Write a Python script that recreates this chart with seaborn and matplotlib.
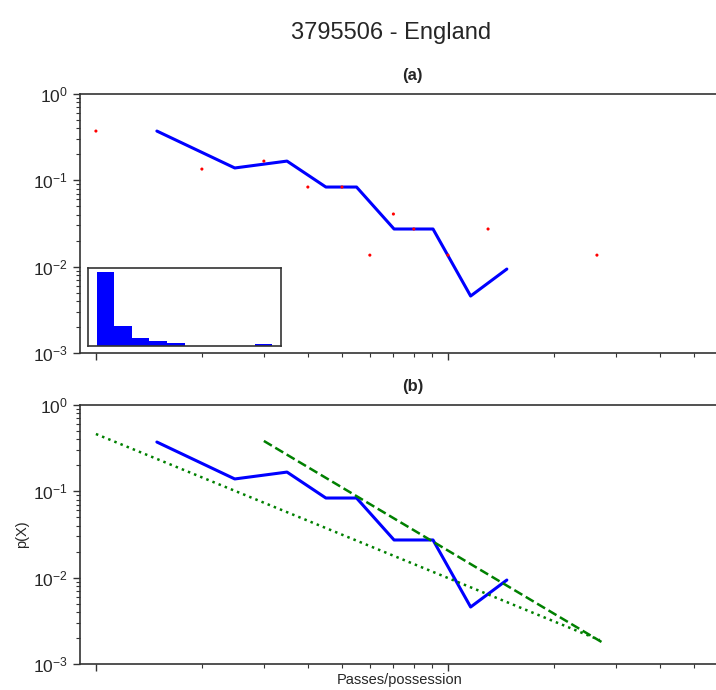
import numpy as np
import pandas as pd
import seaborn as sns
import matplotlib.pyplot as plt
from matplotlib.ticker import LogLocator, NullFormatter

# empirical probabilities of each passes/possession value (red dots)
pass_values = [1, 2, 3, 4, 5, 6, 7, 8, 10, 13, 26.5]
pass_probs = [0.372, 0.135, 0.167, 0.0836, 0.0836, 0.0136, 0.0407, 0.0273, 0.0136, 0.0273, 0.0136]

# log-binned pdf (blue line)
bin_centres = [1.49, 2.48, 3.49, 4.5, 5.5, 7.03, 9.07, 11.6, 14.7]
bin_pdf = [0.372, 0.139, 0.167, 0.0836, 0.0836, 0.0273, 0.0273, 0.00457, 0.00938]

# power-law fits (green)
fit_full_x = [1, 27]
fit_full_y = [0.461, 0.00189]
fit_xmin_x = [3, 27.3]
fit_xmin_y = [0.383, 0.0018]

# linear histogram for the inset
hist_centres = [2.3, 4.8, 7.4, 9.9, 12.5, 15.0, 17.6, 20.1, 22.7, 25.2]
hist_counts = [49, 13, 5, 3, 2, 0, 0, 0, 0, 1]
hist_edges = [1.0, 3.55, 6.1, 8.65, 11.2, 13.75, 16.3, 18.85, 21.4, 23.95, 26.5]

sns.set_style('ticks')
plt.rcParams['font.family'] = ['Liberation Sans', 'DejaVu Sans']
plt.rcParams['mathtext.fontset'] = 'custom'
plt.rcParams['mathtext.rm'] = 'Liberation Sans'
plt.rcParams['mathtext.it'] = 'Liberation Sans:italic'
plt.rcParams['mathtext.bf'] = 'Liberation Sans:bold'

fig = plt.figure(figsize=(7.16, 6.9), dpi=100)
ax_a = fig.add_axes([0.1117, 0.4884, 0.9288, 0.3754])
ax_b = fig.add_axes([0.1117, 0.0377, 0.9288, 0.3754])

pts = pd.DataFrame({'x': pass_values, 'p': pass_probs})
binned = pd.DataFrame({'x': bin_centres, 'p': bin_pdf})

for ax in (ax_a, ax_b):
    sns.lineplot(data=binned, x='x', y='p', ax=ax, color='blue', lw=2.2,
                 sort=False, estimator=None)

sns.scatterplot(data=pts, x='x', y='p', ax=ax_a, color='red', s=5,
                edgecolor='none', zorder=3)

sns.lineplot(x=fit_xmin_x, y=fit_xmin_y, ax=ax_b, color='green', lw=1.8,
             linestyle='--')
sns.lineplot(x=fit_full_x, y=fit_full_y, ax=ax_b, color='green', lw=1.8,
             linestyle=':')

for ax, t in ((ax_a, '(a)'), (ax_b, '(b)')):
    ax.set_xscale('log')
    ax.set_yscale('log')
    ax.set_xlim(0.901, 69.8)
    ax.set_ylim(1e-3, 1)
    ax.set_title(t, fontsize=12, fontweight='bold', pad=10)
    ax.set_xlabel('')
    ax.set_ylabel('')
    ax.xaxis.set_major_formatter(NullFormatter())
    ax.xaxis.set_minor_formatter(NullFormatter())
    ax.yaxis.set_major_locator(LogLocator(base=10, numticks=10))
    ax.yaxis.set_minor_locator(LogLocator(base=10, subs=np.arange(2, 10), numticks=10))
    ax.yaxis.set_minor_formatter(NullFormatter())
    ax.tick_params(axis='both', which='major', labelsize=12.5, length=5, width=1, color='#333333')
    ax.tick_params(axis='both', which='minor', length=3, width=0.8, color='#333333')
    ax.spines['right'].set_visible(False)
    for s in ('top', 'left', 'bottom'):
        ax.spines[s].set_color('#333333')
        ax.spines[s].set_linewidth(1.2)

ax_b.set_ylabel('p(X)', fontsize=10.5)
ax_b.yaxis.set_label_coords(-0.076, 0.5)
ax_b.set_xlabel('Passes/possession', fontsize=10.5)
ax_b.xaxis.set_label_coords(0.481, -0.035)

# inset histogram
ax_in = fig.add_axes([0.1229, 0.4986, 0.2696, 0.113])
sns.histplot(x=hist_centres, weights=hist_counts, bins=hist_edges, ax=ax_in,
             color='blue', alpha=1, edgecolor='none', linewidth=0)
ax_in.set_xticks([])
ax_in.set_yticks([])
ax_in.set_xlabel('')
ax_in.set_ylabel('')
for s in ax_in.spines.values():
    s.set_visible(True)
    s.set_color('#333333')
    s.set_linewidth(1.2)

fig.suptitle('3795506 - England', x=391 / 716, y=0.968, fontsize=17)

fig.savefig('out.png', dpi=100)
